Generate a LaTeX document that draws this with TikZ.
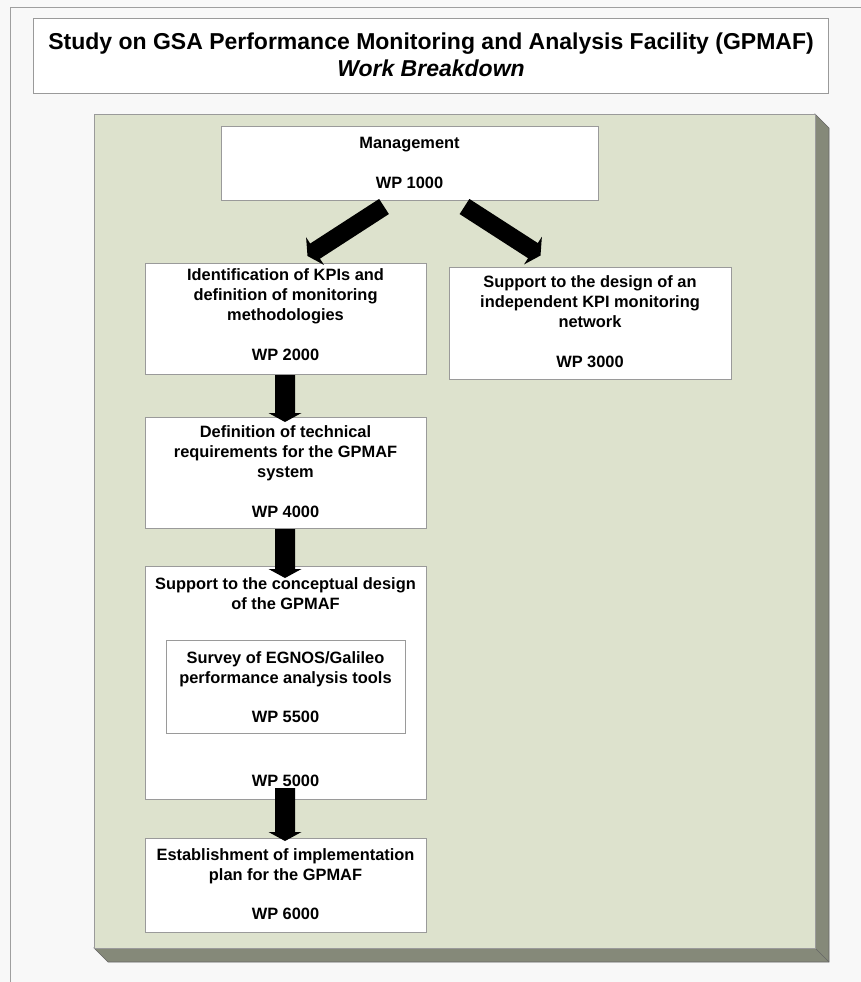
\documentclass[tikz,border=0pt]{standalone}
\usepackage{fontspec}
\setmainfont{Liberation Sans}
\usetikzlibrary{calc}
\definecolor{panel}{HTML}{DDE2CD}
\definecolor{panelside}{HTML}{858979}
\definecolor{edge}{HTML}{9A9A9A}
\definecolor{bgcol}{HTML}{F8F8F8}
\newcommand\blkarrow[4]{%
  \path ($(#2)!9pt!(#1)$) coordinate (hb);
  \fill[black] ($(#1)!#3!90:(#2)$) -- ($(hb)!#3!90:(#2)$) -- ($(hb)!#4!90:(#2)$) -- (#2)
    -- ($(hb)!#4!-90:(#2)$) -- ($(hb)!#3!-90:(#2)$) -- ($(#1)!#3!-90:(#2)$) -- cycle;
}
\tikzset{
  wpbox/.style={draw=edge, line width=1pt, fill=white, inner sep=0pt, anchor=north west},
  wptext/.style={font=\fontsize{16.4}{20}\selectfont\bfseries, align=center, anchor=base, inner sep=0pt},
}
\begin{document}
\begin{tikzpicture}[x=1pt,y=-1pt]
\useasboundingbox (0,0) rectangle (861,982);
\fill[bgcol] (0,0) rectangle (861,982);
\draw[gray!75, line width=1pt] (10,982) -- (10,8) -- (861,8);
% title
\node[wpbox, minimum width=795pt, minimum height=75pt] (title) at (33,18) {};
\node[font=\fontsize{23}{27}\selectfont\bfseries, align=center, anchor=base, inner sep=0pt] (titletext) at (431,76)
  {Study on GSA Performance Monitoring and Analysis Facility (GPMAF)\\\itshape Work Breakdown};
% panel
\fill[panelside, draw=gray!80!black, line width=0.6pt] (815,114) -- (829,128) -- (829,962) -- (108,962) -- (94,948) -- (815,948) -- cycle;
\draw[gray!80!black, line width=0.6pt] (815,948) -- (829,962);
\fill[panel, draw=edge, line width=1pt] (94,114) rectangle (815,948);
% boxes
\node[wpbox, minimum width=377pt, minimum height=74pt] (m) at (221,126) {};
\node[wptext] (mt) at (409.5,188) {Management\\[20pt]WP 1000};
\node[wpbox, minimum width=281pt, minimum height=111pt] (k) at (145,263) {};
\node[wptext] (kt) at (285.5,360) {Identification of KPIs and\\definition of monitoring\\methodologies\\[20pt]WP 2000};
\node[wpbox, minimum width=282pt, minimum height=112pt] (n) at (449,267) {};
\node[wptext] (nt) at (590,367) {Support to the design of an\\independent KPI monitoring\\network\\[20pt]WP 3000};
\node[wpbox, minimum width=281pt, minimum height=111pt] (d) at (145,417) {};
\node[wptext] (dt) at (285.5,517) {Definition of technical\\requirements for the GPMAF\\system\\[20pt]WP 4000};
\node[wpbox, minimum width=281pt, minimum height=233pt] (c) at (145,566) {};
\node[wptext] (ct) at (285.5,609) {Support to the conceptual design\\of the GPMAF};
\node[wpbox, minimum width=239pt, minimum height=93pt] (s) at (166,640) {};
\node[wptext] (st) at (285.5,722) {Survey of EGNOS/Galileo\\performance analysis tools\\[19pt]WP 5500};
\node[wptext] (cwp) at (285.5,786) {WP 5000};
\node[wpbox, minimum width=281pt, minimum height=94pt] (e) at (145,838) {};
\node[wptext] (et) at (285.5,919) {Establishment of implementation\\plan for the GPMAF\\[19pt]WP 6000};
% connector ends
\coordinate (a1s) at ($(m.south)+(-26,5.5)$);
\coordinate (a1t) at ($(k.north)+(21.5,-7)$);
\coordinate (a2s) at ($(m.south)+(54.5,5.5)$);
\coordinate (a2t) at ($(n.north)+(-50,-11.5)$);
\coordinate (a3s) at ($(k.south)+(-1,0)$);
\coordinate (a3t) at ($(d.north)+(-1,5)$);
\coordinate (a4s) at ($(d.south)+(-1,0)$);
\coordinate (a4t) at ($(c.north)+(-1,12)$);
\coordinate (a5s) at ($(c.south)+(-1,-12)$);
\coordinate (a5t) at ($(e.north)+(-1,3)$);
% arrows
\blkarrow{a1s}{a1t}{9pt}{16.5pt}
\blkarrow{a2s}{a2t}{9pt}{16.5pt}
\blkarrow{a3s}{a3t}{10pt}{16.5pt}
\blkarrow{a4s}{a4t}{10pt}{16.5pt}
\blkarrow{a5s}{a5t}{10pt}{16.5pt}
\end{tikzpicture}
\end{document}
